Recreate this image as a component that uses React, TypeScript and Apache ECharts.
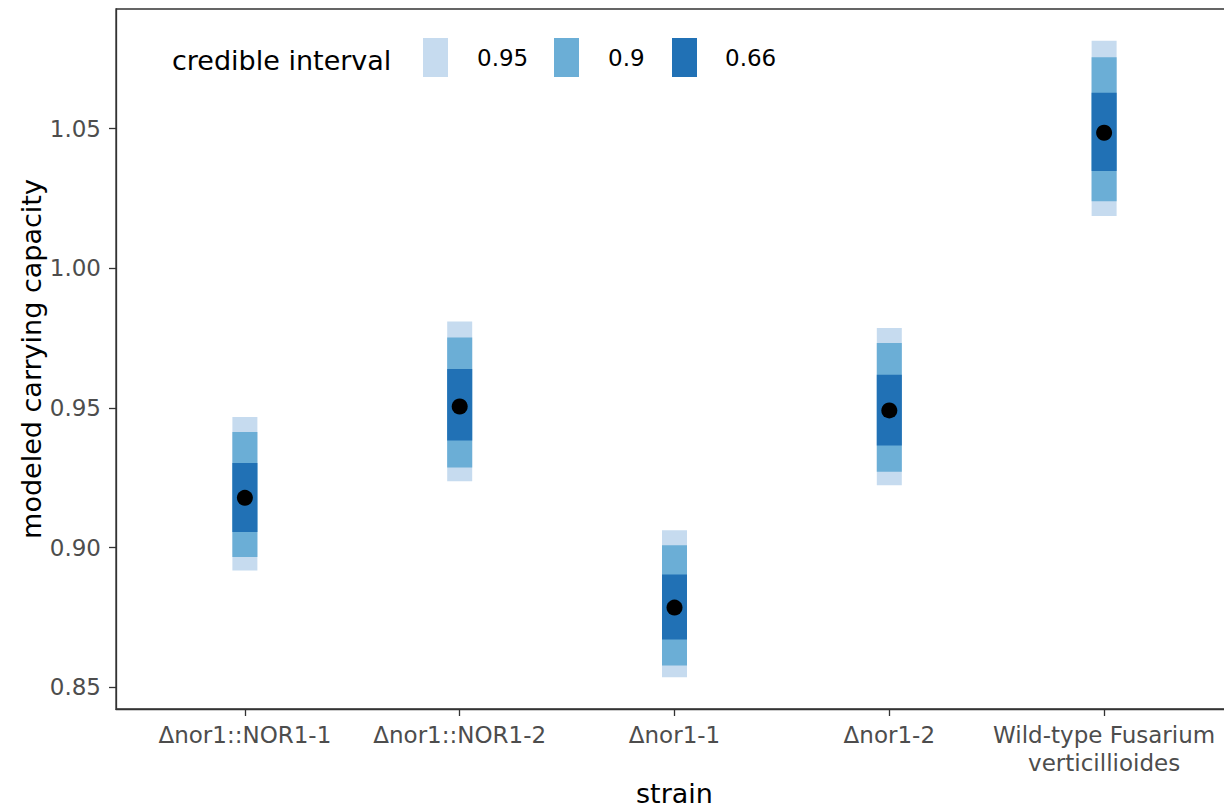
import React, { useEffect, useRef } from "react";
import * as echarts from "echarts";

// Strains on the x axis
const strains = [
  "Δnor1::NOR1-1",
  "Δnor1::NOR1-2",
  "Δnor1-1",
  "Δnor1-2",
  "Wild-type Fusarium\nverticillioides",
];

// Posterior median of the modeled carrying capacity
const median = [0.9178, 0.9505, 0.8785, 0.9491, 1.0485];

// Credible interval bounds per strain
const lower95 = [0.8918, 0.9237, 0.8536, 0.9223, 1.0187];
const upper95 = [0.9467, 0.9809, 0.9062, 0.9786, 1.0814];
const lower90 = [0.8966, 0.9287, 0.8578, 0.9271, 1.024];
const upper90 = [0.9414, 0.9752, 0.9008, 0.9732, 1.0755];
const lower66 = [0.9056, 0.9383, 0.8671, 0.9365, 1.0348];
const upper66 = [0.9303, 0.9639, 0.8904, 0.9619, 1.0628];

const intervalLevels = ["0.95", "0.9", "0.66"];
const intervalColors = ["#c6dbef", "#6baed6", "#2171b5"];

const yTicks = [0.85, 0.9, 0.95, 1.0, 1.05];

const FONT = "DejaVu Sans";

// The panel runs a little past the right edge of the visible page
const CHART_W = 1240;
const CHART_H = 809;

export default function App() {
  const ref = useRef<HTMLDivElement>(null);

  useEffect(() => {
    if (!ref.current) return;
    const chart = echarts.init(ref.current, null, { renderer: "svg" });

    const lows = [lower95, lower90, lower66];
    const highs = [upper95, upper90, upper66];

    // 5% padding around the data range, like ggplot's default expansion
    const dataMin = Math.min(...lower95);
    const dataMax = Math.max(...upper95);
    const pad = (dataMax - dataMin) * 0.05;

    const barWidth = 25;

    const intervalSeries = intervalLevels.map((level, k) => ({
      type: "custom",
      name: level,
      data: strains.map((_, i) => [i, lows[k][i], highs[k][i]]),
      encode: { x: 0, y: [1, 2] },
      renderItem: (params: any, api: any) => {
        const x = api.value(0);
        const top = api.coord([x, api.value(2)]);
        const bottom = api.coord([x, api.value(1)]);
        return {
          type: "rect",
          shape: {
            x: top[0] - barWidth / 2,
            y: top[1],
            width: barWidth,
            height: bottom[1] - top[1],
          },
          style: { fill: intervalColors[k] },
        };
      },
      z: 2 + k,
    }));

    const tickIdx = strains.map((_, i) => i);

    const legendKeys = [423, 554, 672];
    const legendLabels = [477, 608, 725];

    chart.setOption({
      animation: false,
      backgroundColor: "#ffffff",
      textStyle: { fontFamily: FONT },
      grid: {
        left: 116,
        right: CHART_W - 1233,
        top: 9,
        bottom: 100,
        show: true,
        borderColor: "#333333",
        borderWidth: 1.3,
        backgroundColor: "transparent",
        containLabel: false,
      },
      xAxis: {
        type: "value",
        min: -0.6,
        max: 4.6,
        axisLine: {
          show: true,
          onZero: false,
          lineStyle: { color: "#333333", width: 1.3 },
        },
        axisTick: {
          show: true,
          customValues: tickIdx,
          length: 7,
          lineStyle: { color: "#333333", width: 1.3 },
        },
        axisLabel: {
          customValues: tickIdx,
          formatter: (v: number) => strains[Math.round(v)],
          fontSize: 23,
          fontFamily: FONT,
          color: "#4d4d4d",
          lineHeight: 28,
          margin: 12,
        },
        splitLine: { show: false },
      },
      yAxis: {
        type: "value",
        min: dataMin - pad,
        max: dataMax + pad,
        axisLine: {
          show: true,
          onZero: false,
          lineStyle: { color: "#333333", width: 1.3 },
        },
        axisTick: {
          show: true,
          customValues: yTicks,
          length: 7,
          lineStyle: { color: "#333333", width: 1.3 },
        },
        axisLabel: {
          customValues: yTicks,
          formatter: (v: number) => v.toFixed(2),
          fontSize: 23,
          fontFamily: FONT,
          color: "#4d4d4d",
          margin: 15,
        },
        splitLine: { show: false },
      },
      graphic: [
        {
          type: "text",
          x: 31,
          y: 359,
          rotation: Math.PI / 2,
          style: {
            text: "modeled carrying capacity",
            font: `27px '${FONT}'`,
            fill: "#000000",
            align: "center",
            verticalAlign: "middle",
          },
        },
        {
          type: "text",
          x: 674.5,
          y: 793,
          style: {
            text: "strain",
            font: `27px '${FONT}'`,
            fill: "#000000",
            align: "center",
            verticalAlign: "middle",
          },
        },
        {
          type: "text",
          x: 172,
          y: 60,
          style: {
            text: "credible interval",
            font: `27px '${FONT}'`,
            fill: "#000000",
            align: "left",
            verticalAlign: "middle",
          },
        },
        ...intervalLevels.map((level, k) => ({
          type: "rect",
          shape: { x: legendKeys[k], y: 38, width: 25, height: 39 },
          style: { fill: intervalColors[k] },
        })),
        ...intervalLevels.map((level, k) => ({
          type: "text",
          x: legendLabels[k],
          y: 57.5,
          style: {
            text: level,
            font: `23px '${FONT}'`,
            fill: "#000000",
            align: "left",
            verticalAlign: "middle",
          },
        })),
      ],
      series: [
        ...intervalSeries,
        {
          type: "scatter",
          name: "median",
          data: strains.map((_, i) => [i, median[i]]),
          symbol: "circle",
          symbolSize: 16,
          itemStyle: { color: "#000000", opacity: 1 },
          z: 10,
        },
      ],
    });

    return () => chart.dispose();
  }, []);

  return (
    <div
      style={{
        position: "fixed",
        left: 0,
        top: 0,
        width: 1224,
        height: CHART_H,
        overflow: "hidden",
      }}
    >
      <div ref={ref} style={{ width: CHART_W, height: CHART_H }} />
    </div>
  );
}
